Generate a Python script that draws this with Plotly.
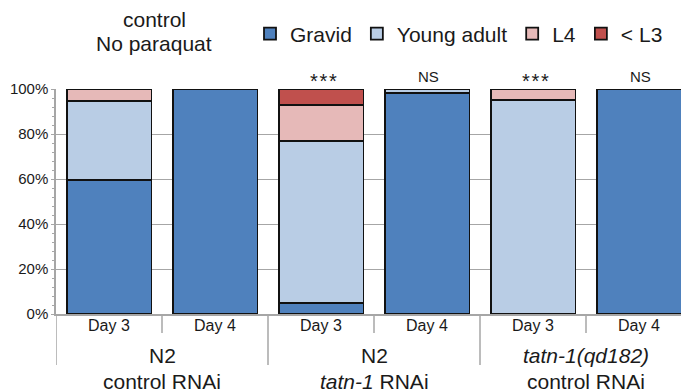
import plotly.graph_objects as go

# ---- data ----
categories = [0, 1, 2, 3, 4, 5]
day_labels = ["Day 3", "Day 4", "Day 3", "Day 4", "Day 3", "Day 4"]
gravid = [59.5, 100, 5, 98.1, 0, 100]
young_adult = [35, 0, 72, 1.9, 95, 0]
l4 = [5.5, 0, 16, 0, 5, 0]
lt_l3 = [0, 0, 7, 0, 0, 0]
significance = ["", "", "*\u200a*\u200a*", "NS", "*\u200a*\u200a*", "NS"]
group_line1 = ["N2", "N2", "<i>tatn-1(qd182)</i>"]
group_line2 = ["control RNAi", "<i>tatn-1</i> RNAi", "control RNAi"]
group_centers = [0.5, 2.5, 4.5]
y_tickvals = [0, 20, 40, 60, 80, 100]
y_ticktext = ["0%", "20%", "40%", "60%", "80%", "100%"]
title_lines = ["control", "No paraquat"]

series = [
    ("Gravid", gravid, "#4F81BD"),
    ("Young adult", young_adult, "#B9CDE5"),
    ("L4", l4, "#E6B9B8"),
    ("< L3", lt_l3, "#C0504D"),
]

FONT = "Liberation Sans, Arial, sans-serif"
TXT = "#1a1a1a"
GRID = "#A6A6A6"

fig = go.Figure()
for name, vals, col in series:
    fig.add_trace(go.Bar(
        x=categories, y=vals, name=name, width=0.8,
        marker=dict(color=col, line=dict(color="#111111", width=1.8)),
        cliponaxis=False,
    ))

W, H = 681, 392
L, T, B = 56, 89, 78
plot_w = W - L
plot_h = H - T - B
cat_px = 106.0
xmax = -0.5 + plot_w / cat_px


def py(p):
    """pixel row -> paper y"""
    return (H - B - p) / plot_h


def px(p):
    return (p - L) / plot_w


annotations = []
# title lines
for txt, row in zip(title_lines, [19.5, 43.5]):
    annotations.append(dict(x=px(154), y=py(row), xref="paper", yref="paper",
                            text=txt, showarrow=False, yanchor="middle",
                            xanchor="center",
                            font=dict(size=21, color=TXT, family=FONT)))
# day labels
for c, lab in zip(categories, day_labels):
    annotations.append(dict(x=c, y=py(325), xref="x", yref="paper", text=lab,
                            showarrow=False, yanchor="middle", xanchor="center",
                            font=dict(size=16, color=TXT, family=FONT)))
# group labels
for gx, l1, l2 in zip(group_centers, group_line1, group_line2):
    annotations.append(dict(x=gx, y=py(355), xref="x", yref="paper", text=l1,
                            showarrow=False, yanchor="middle",
                            font=dict(size=21, color=TXT, family=FONT)))
    annotations.append(dict(x=gx, y=py(381), xref="x", yref="paper", text=l2,
                            showarrow=False, yanchor="middle",
                            font=dict(size=21, color=TXT, family=FONT)))
# significance labels
for c, s in zip(categories, significance):
    if not s:
        continue
    if s == "NS":
        annotations.append(dict(x=c + 0.01, y=py(76.5), xref="x", yref="paper",
                                text=s, showarrow=False, yanchor="middle",
                                font=dict(size=15, color=TXT, family=FONT)))
    else:
        annotations.append(dict(x=c + 0.02, y=py(81.5), xref="x", yref="paper",
                                text=s, showarrow=False, yanchor="middle",
                                font=dict(size=20, color=TXT, family=FONT)))

shapes = []
# separators under axis
for i in range(len(categories) + 1):
    xb = i - 0.5
    if xb > xmax:
        continue
    is_group = (i % 2 == 0)
    y1 = py(365) if is_group else py(333)
    shapes.append(dict(type="line", xref="x", yref="paper", x0=xb, x1=xb,
                       y0=0, y1=y1, line=dict(color=GRID, width=1.5)))

fig.update_layout(
    width=W, height=H,
    margin=dict(l=L, r=0, t=T, b=B, pad=0),
    paper_bgcolor="white", plot_bgcolor="white",
    barmode="stack",
    font=dict(family=FONT, color=TXT),
    legend=dict(orientation="h", xref="container", yref="container",
                x=250 / W, xanchor="left", y=1 - 34 / H, yanchor="middle",
                font=dict(size=21, color=TXT, family=FONT),
                traceorder="normal", itemclick=False, bgcolor="rgba(0,0,0,0)"),
    xaxis=dict(range=[-0.5, xmax], showticklabels=False, showgrid=False,
               zeroline=False, showline=True, linecolor=GRID, linewidth=1.5,
               ticks="", fixedrange=True),
    yaxis=dict(range=[0, 100], tickmode="array", tickvals=y_tickvals,
               ticktext=y_ticktext, showgrid=True, gridcolor=GRID, gridwidth=1,
               zeroline=False, showline=True, linecolor=GRID, linewidth=1.5,
               ticks="outside", ticklen=3, tickcolor=GRID,
               tickfont=dict(size=15, color=TXT, family=FONT),
               minor=dict(dtick=4, ticks="outside", ticklen=2, tickcolor=GRID,
                          showgrid=False),
               fixedrange=True),
    annotations=annotations,
    shapes=shapes,
    showlegend=True,
)

fig.write_html("out.html")
